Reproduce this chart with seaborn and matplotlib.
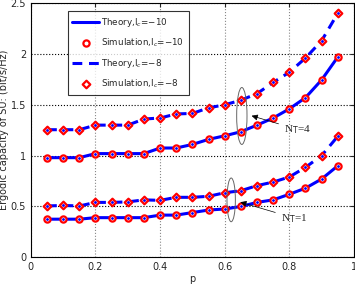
import numpy as np
import pandas as pd
import seaborn as sns
import matplotlib.pyplot as plt
from matplotlib.patches import Ellipse

sns.set_style('white')
plt.rcParams['font.family'] = ['DejaVu Sans']

# 데이터
p = [0.05, 0.10, 0.15, 0.20, 0.25, 0.30, 0.35, 0.40, 0.45, 0.50,
     0.55, 0.60, 0.65, 0.70, 0.75, 0.80, 0.85, 0.90, 0.95]

# N_T = 4
nt4_ic10 = [0.98, 0.98, 0.98, 1.02, 1.02, 1.02, 1.02, 1.075, 1.075, 1.11,
            1.16, 1.195, 1.235, 1.30, 1.37, 1.46, 1.57, 1.745, 1.97]
nt4_ic8 = [1.255, 1.255, 1.255, 1.30, 1.30, 1.30, 1.36, 1.37, 1.41, 1.415,
           1.47, 1.50, 1.545, 1.61, 1.72, 1.82, 1.96, 2.13, 2.40]

# N_T = 1
nt1_ic10 = [0.375, 0.375, 0.375, 0.39, 0.39, 0.39, 0.39, 0.415, 0.415, 0.44,
            0.465, 0.475, 0.50, 0.54, 0.565, 0.62, 0.68, 0.77, 0.90]
nt1_ic8 = [0.505, 0.51, 0.505, 0.54, 0.54, 0.545, 0.565, 0.56, 0.59, 0.59,
           0.60, 0.635, 0.655, 0.705, 0.74, 0.79, 0.885, 1.00, 1.19]

labels = ['Theory,I$_c$=\u221210', 'Simulation,I$_c$=\u221210',
          'Theory,I$_c$=\u22128', 'Simulation,I$_c$=\u22128']

fig = plt.figure(figsize=(3.55, 2.84), dpi=100)
ax = fig.add_axes([0.087, 0.094, 0.91, 0.895])

df = pd.DataFrame({'p': p, 'a4': nt4_ic10, 'b4': nt4_ic8,
                   'a1': nt1_ic10, 'b1': nt1_ic8})

blue = '#0000ff'
red = '#ff0000'

for i, (a, b) in enumerate([('a4', 'b4'), ('a1', 'b1')]):
    lab = labels if i == 0 else [None] * 4
    sns.lineplot(data=df, x='p', y=a, ax=ax, color=blue, lw=2.2, label=lab[0], zorder=2)
    sns.scatterplot(data=df, x='p', y=a, ax=ax, marker='o', s=20, facecolor='white',
                    edgecolor=red, linewidth=1.6, label=lab[1], zorder=3)
    sns.lineplot(data=df, x='p', y=b, ax=ax, color=blue, lw=2.2, ls=(0, (3.2, 2.2)),
                 label=lab[2], zorder=2)
    sns.scatterplot(data=df, x='p', y=b, ax=ax, marker='D', s=15, facecolor='white',
                    edgecolor=red, linewidth=1.6, label=lab[3], zorder=3)

# 마커 중앙의 파란 점
for col in ['a4', 'b4', 'a1', 'b1']:
    ax.plot(df['p'], df[col], ls='none', marker='.', ms=2, color=blue, zorder=4)

ax.set_xlim(0, 1)
ax.set_ylim(0, 2.5)
ax.set_xticks([0, 0.2, 0.4, 0.6, 0.8, 1])
ax.set_xticklabels(['0', '0.2', '0.4', '0.6', '0.8', '1'])
ax.set_yticks([0, 0.5, 1, 1.5, 2, 2.5])
ax.set_yticklabels(['0', '0.5', '1', '1.5', '2', '2.5'])
ax.tick_params(labelsize=7, direction='in', length=3, top=True, right=True)
ax.xaxis.grid(True, ls=':', color='#888888', lw=0.8)
ax.yaxis.grid(True, ls=':', color='black', lw=0.8)
for s in ax.spines.values():
    s.set_color('black')
    s.set_linewidth(0.8)

ax.set_xlabel('p', fontsize=7, labelpad=1)
ax.set_ylabel('Ergodic capacity of SU: (bit/s/Hz)', fontsize=7, labelpad=1)

leg = ax.legend(loc='upper left', bbox_to_anchor=(0.115, 0.968), fontsize=6.3,
                frameon=True, fancybox=False, edgecolor='black', handlelength=3.0,
                borderpad=0.5, labelspacing=0.9, handletextpad=0.3, borderaxespad=0)
leg.get_frame().set_linewidth(0.8)

# 타원 + 화살표 주석
ax.add_patch(Ellipse((0.653, 1.39), 0.032, 0.56, fill=False, ec='#666666', lw=0.7, zorder=5))
ax.add_patch(Ellipse((0.62, 0.565), 0.026, 0.43, fill=False, ec='#666666', lw=0.7, zorder=5))
arrow = dict(arrowstyle='-|>', color='black', lw=0.5, mutation_scale=9)
ax.annotate('N$_\\mathrm{T}$=4', xy=(0.675, 1.40), xytext=(0.785, 1.23),
            fontsize=8, family='Liberation Serif', arrowprops=arrow)
ax.annotate('N$_\\mathrm{T}$=1', xy=(0.64, 0.55), xytext=(0.775, 0.36),
            fontsize=8, family='Liberation Serif', arrowprops=arrow)

fig.savefig('out.png', dpi=100)
